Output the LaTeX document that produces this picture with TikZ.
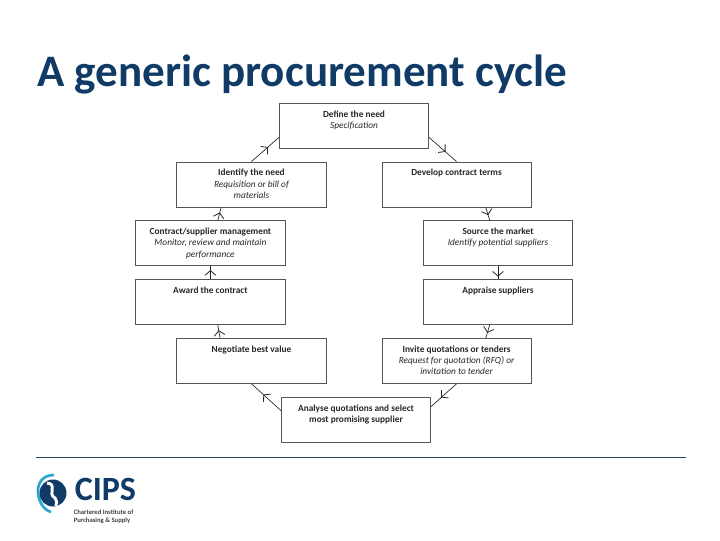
\documentclass[tikz,border=0pt]{standalone}
\usepackage{fontspec}
\setmainfont{Carlito}
\usepackage{xcolor}
\usepackage{tikz}
\usetikzlibrary{arrows.meta, positioning, decorations.markings}
\definecolor{titleblue}{HTML}{0F3B66}
\definecolor{logocyan}{HTML}{2BA6CF}
\definecolor{rulecol}{HTML}{1F4A5C}
\definecolor{boxline}{HTML}{555555}
\newcommand{\steptext}[2]{\parbox[t][22.5pt][t]{108pt}{\centering\fontsize{7}{8.4}\selectfont\textbf{#1}\\\textit{#2}}}

\begin{document}
\begin{tikzpicture}[
  x=0.75pt, y=-0.75pt,
  node distance=9.9pt,
  stepbox/.style={rectangle, draw=boxline, line width=0.5pt, minimum width=112pt, minimum height=33.75pt,
               inner sep=0pt, text=black!85},
  flow/.style={draw=black!85, line width=0.5pt, postaction={decorate, decoration={markings,
               mark=at position #1 with {\arrow[black!85, line width=0.6pt]{Straight Barb[length=3.5pt,width=8pt]}}}}},
  flow/.default=0.6
]
  \useasboundingbox (0,0) rectangle (720,540);
  \node[anchor=base west, font=\bfseries\fontsize{33.8}{34}\selectfont, text=titleblue, inner sep=0pt] (title) at (37,86) {A generic procurement cycle};

  \node[stepbox] (define) at (354,125.5) {\steptext{Define the need}{Specification}};
  \node[stepbox, below=of define, xshift=-76.9pt] (identify) {\steptext{Identify the need}{Requisition or bill of\\materials}};
  \node[stepbox, below=of identify, xshift=-30.8pt] (contract) {\steptext{Contract/supplier management}{Monitor, review and maintain\\performance}};
  \node[stepbox, below=of contract] (award) {\steptext{Award the contract}{}};
  \node[stepbox, below=of award, xshift=30.8pt] (negotiate) {\steptext{Negotiate best value}{}};
  \node[stepbox, below=of negotiate, xshift=78.4pt] (analyse) {\steptext{Analyse quotations and select\\most promising supplier}{}};
  \node[stepbox, below=of define, xshift=76.9pt] (develop) {\steptext{Develop contract terms}{}};
  \node[stepbox, below=of develop, xshift=31.1pt] (source) {\steptext{Source the market}{Identify potential suppliers}};
  \node[stepbox, below=of source] (appraise) {\steptext{Appraise suppliers}{}};
  \node[stepbox, below=of appraise, xshift=-31.1pt] (invite) {\steptext{Invite quotations or tenders}{Request for quotation (RFQ) or\\invitation to tender}};

  \draw[flow] (define.-9) -- (develop.north);
  \draw[flow] (develop.-38) -- (source.110);
  \draw[flow=0.8] (source.south) -- (appraise.north);
  \draw[flow] (appraise.-110) -- (invite.38);
  \draw[flow] (invite.south) -- (analyse.10);
  \draw[flow] (analyse.173) -- (negotiate.south);
  \draw[flow] (negotiate.144) -- (award.-72);
  \draw[flow=0.7] (award.north) -- (contract.south);
  \draw[flow] (contract.72) -- (identify.217);
  \draw[flow] (identify.north) -- (define.189);

  % footer rule and logo
  \coordinate (ruleL) at (36,457);
  \coordinate (ruleR) at (686,457);
  \draw[rulecol, line width=0.6pt] (ruleL) -- (ruleR);
  \draw[logocyan, line width=2pt] (54,475) .. controls (42,475) and (37.5,484) .. (38,492) .. controls (38.5,502) and (44,510) .. (51,512);
  \fill[titleblue] (53,493) circle (13.5);
  \draw[white, line width=2.2pt] (47,483) .. controls (58,484) and (47,494) .. (55,498) .. controls (57,500) and (57,503) .. (56,506);
  \node[anchor=base west, inner sep=0pt, font=\bfseries\fontsize{25.5}{26}\selectfont, text=titleblue] (cips) at (74.5,500.5) {CIPS};
  \node[anchor=north west, inner sep=0pt, font=\bfseries\fontsize{5}{6}\selectfont, text=black!75, align=left] (cipsname) at (73.5,509.5) {Chartered Institute of\\Purchasing \& Supply};
\end{tikzpicture}
\end{document}
